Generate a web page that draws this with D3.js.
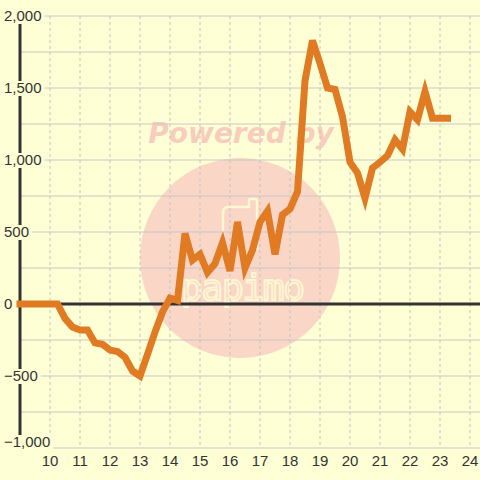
<!DOCTYPE html>
<html>
<head>
<meta charset="utf-8">
<script src="https://cdn.jsdelivr.net/npm/d3@7"></script>
<style>
  html, body { margin: 0; padding: 0; background: #ffffd5; }
  svg { display: block; }
</style>
</head>
<body>
<svg id="chart" width="480" height="480"></svg>
<script>
// hour of day (15 min steps) and value
let hours = [9, 9.25, 9.5, 9.75, 10, 10.25, 10.5, 10.75, 11, 11.25, 11.5, 11.75, 12, 12.25, 12.5, 12.75,
  13, 13.25, 13.5, 13.75, 14, 14.25, 14.5, 14.75, 15, 15.25, 15.5, 15.75, 16, 16.25, 16.5, 16.75,
  17, 17.25, 17.5, 17.75, 18, 18.25, 18.5, 18.75, 19, 19.25, 19.5, 19.75, 20, 20.25, 20.5, 20.75,
  21, 21.25, 21.5, 21.75, 22, 22.25, 22.5, 22.75, 23, 23.25];
let values = [0, 0, 0, 0, 0, 0, -100, -160, -180, -180, -270, -280, -320, -330, -370, -465,
  -500, -350, -195, -55, 40, 25, 490, 305, 345, 220, 280, 425, 230, 570, 250, 375,
  570, 645, 345, 620, 660, 780, 1550, 1830, 1670, 1500, 1490, 1300, 985, 910, 735, 945,
  985, 1030, 1140, 1075, 1335, 1280, 1475, 1290, 1290, 1290];
let y_ticks = [-1000, -500, 0, 500, 1000, 1500, 2000];
let grid_ticks = d3.range(-1000, 2001, 250);
let x_ticks = d3.range(10, 25);

let width = 480, height = 480;
let plot_left = 20, plot_top = 16, plot_bottom = 448;
let bg = '#ffffd5';

let svg = d3.select('#chart');
svg.append('rect').attr('width', width).attr('height', height).attr('fill', bg);

let x = d3.scaleLinear().domain([9, 9 + (width - plot_left) / 30]).range([plot_left, width]);
let y = d3.scaleLinear().domain([-1000, 2000]).range([plot_bottom, plot_top]);

// watermark
let wm = svg.append('g').attr('class', 'watermark');
wm.append('circle').attr('cx', 240).attr('cy', 258).attr('r', 100).attr('fill', '#fad6c6');
wm.append('text').attr('x', 241).attr('y', 143).attr('text-anchor', 'middle')
  .attr('font-family', 'DejaVu Sans').attr('font-weight', 'bold').attr('font-style', 'italic')
  .attr('font-size', 28).attr('fill', '#f9cdbd').text('Powered by');
wm.append('path')
  .attr('d', 'M229,207 H249 V201 Q249,199 251,199 H255 Q257,199 257,201 V250 M229,207 Q223,207 223,213 V250')
  .attr('fill', 'none').attr('stroke', '#fff6d2').attr('stroke-width', 2.5);
wm.append('text').attr('x', 243).attr('y', 300).attr('text-anchor', 'middle')
  .attr('font-family', 'DejaVu Sans Mono').attr('font-size', 36).attr('textLength', 124)
  .attr('fill', 'none').attr('stroke', '#fff6d2').attr('stroke-width', 2).text('papimo');

// grid
let grid = svg.append('g').attr('class', 'grid');
grid.selectAll('.hgrid').data(grid_ticks).enter().append('line').attr('class', 'hgrid')
  .attr('x1', plot_left).attr('x2', width).attr('y1', d => y(d)).attr('y2', d => y(d))
  .attr('stroke', '#c8c8c8').attr('stroke-width', 1.2);
grid.selectAll('.vgrid').data(x_ticks).enter().append('line').attr('class', 'vgrid')
  .attr('x1', d => x(d)).attr('x2', d => x(d)).attr('y1', plot_top).attr('y2', plot_bottom)
  .attr('stroke', '#c4c4c4').attr('stroke-width', 1).attr('stroke-dasharray', '3,3');

// zero line and y axis line
svg.append('line').attr('x1', plot_left).attr('x2', width).attr('y1', y(0)).attr('y2', y(0))
  .attr('stroke', '#333').attr('stroke-width', 3);
svg.append('line').attr('x1', plot_left).attr('x2', plot_left).attr('y1', plot_top).attr('y2', plot_bottom)
  .attr('stroke', '#333').attr('stroke-width', 3);

// y labels with background boxes (bottom one nudged up to stay in the plot)
let fmt = d3.format(',');
let ylab = svg.selectAll('.ylab').data(y_ticks).enter().append('g').attr('class', 'ylab')
  .attr('transform', d => 'translate(0,' + Math.min(y(d), plot_bottom - 6) + ')');
ylab.append('text').attr('x', 4).attr('dy', '0.35em')
  .attr('font-family', 'Liberation Sans, Arial, sans-serif').attr('font-size', 15)
  .attr('fill', '#333').text(d => fmt(d));
ylab.each(function(){
  let g = d3.select(this);
  let bb = g.select('text').node().getBBox();
  g.insert('rect', 'text').attr('x', 0).attr('y', -7).attr('width', bb.x + bb.width + 3).attr('height', 15)
    .attr('fill', bg);
});

// x labels
svg.selectAll('.xlab').data(x_ticks).enter().append('text').attr('class', 'xlab')
  .attr('x', d => x(d)).attr('y', 466).attr('text-anchor', 'middle')
  .attr('font-family', 'Liberation Sans, Arial, sans-serif').attr('font-size', 15)
  .attr('fill', '#333').text(d => d);

// series line
let pts = hours.map((h, i) => [h, values[i]]);
svg.append('path').datum(pts)
  .attr('d', d3.line().x(d => x(d[0])).y(d => y(d[1])))
  .attr('fill', 'none').attr('stroke', '#e07b24').attr('stroke-width', 7)
  .attr('stroke-linecap', 'square').attr('stroke-linejoin', 'miter');
</script>
</body>
</html>
